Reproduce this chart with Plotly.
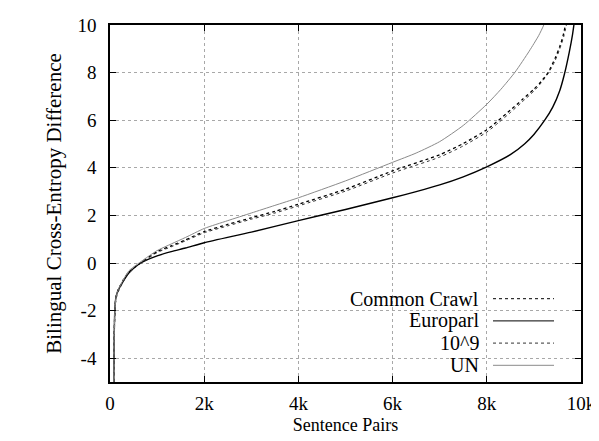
import plotly.graph_objects as go

# Sentence pairs (x) and bilingual cross-entropy difference (y) per corpus
cc_x = [80, 90, 105, 130, 180, 270, 400, 650, 1000, 1300, 1600, 2000, 2500, 3000, 3500, 4000, 5000, 6000, 7000, 7500, 8000, 8250, 8500, 8750, 9000, 9150, 9300, 9450, 9550, 9620, 9680]
cc_y = [-5, -3.0, -1.9, -1.4, -1.1, -0.75, -0.38, 0.0, 0.48, 0.72, 0.97, 1.32, 1.62, 1.9, 2.17, 2.47, 3.1, 3.87, 4.55, 5.02, 5.6, 6.0, 6.42, 6.86, 7.3, 7.62, 8.0, 8.6, 9.1, 9.55, 10.1]

ep_x = [80, 90, 105, 130, 180, 270, 400, 650, 1000, 1300, 1600, 2000, 3000, 4000, 5000, 6000, 6500, 7000, 7500, 8000, 8500, 8800, 9000, 9230, 9400, 9550, 9650, 9750, 9820, 9870]
ep_y = [-5, -3.0, -1.85, -1.4, -1.12, -0.8, -0.42, 0.0, 0.3, 0.48, 0.63, 0.85, 1.3, 1.78, 2.25, 2.74, 3.0, 3.28, 3.62, 4.04, 4.55, 5.0, 5.4, 6.0, 6.55, 7.25, 7.95, 8.85, 9.6, 10.3]

g9_x = [80, 90, 105, 130, 180, 270, 400, 650, 1000, 1300, 1600, 2000, 2500, 3000, 3500, 4000, 5000, 6000, 7000, 7500, 8000, 8250, 8500, 8750, 9000, 9150, 9300, 9450, 9550, 9640, 9700]
g9_y = [-5, -3.2, -2.0, -1.5, -1.2, -0.82, -0.42, -0.02, 0.44, 0.68, 0.93, 1.27, 1.56, 1.84, 2.1, 2.4, 3.02, 3.78, 4.45, 4.92, 5.5, 5.9, 6.32, 6.77, 7.22, 7.56, 7.95, 8.5, 9.0, 9.55, 10.1]

un_x = [80, 90, 105, 130, 180, 270, 400, 650, 1000, 1300, 1600, 2000, 2500, 3000, 3500, 4000, 5000, 6000, 6500, 7000, 7500, 8000, 8300, 8600, 8900, 9100, 9210, 9260]
un_y = [-5, -3.0, -1.9, -1.4, -1.1, -0.75, -0.33, 0.05, 0.52, 0.8, 1.07, 1.45, 1.78, 2.1, 2.42, 2.74, 3.45, 4.23, 4.62, 5.1, 5.78, 6.67, 7.3, 8.02, 8.9, 9.55, 10.0, 10.3]

series_names = ["Common Crawl", "Europarl", "10^9", "UN"]

x_tickvals = [0, 2000, 4000, 6000, 8000, 10000]
x_ticktext = ["0", "2k", "4k", "6k", "8k", "10k"]
y_tickvals = [-4, -2, 0, 2, 4, 6, 8, 10]
y_ticktext = ["-4", "-2", "0", "2", "4", "6", "8", "10"]

styles = [
    dict(color="black", width=1.3, dash="dot"),
    dict(color="black", width=1.4, dash="solid"),
    dict(color="#333333", width=1.0, dash="dot"),
    dict(color="#8a8a8a", width=1.0, dash="solid"),
]

fig = go.Figure()
for name, xs, ys, st in zip(series_names, [cc_x, ep_x, g9_x, un_x], [cc_y, ep_y, g9_y, un_y], styles):
    fig.add_trace(go.Scatter(x=xs, y=ys, mode="lines", name=name,
                             line=dict(color=st["color"], width=st["width"], dash=st["dash"],
                                       shape="spline", smoothing=0.6),
                             showlegend=False))

font_family = "Liberation Serif"
# custom legend: text right-aligned, sample line to the right
plot_h = 357
leg_top = (374 - 290.7) / plot_h
leg_step = 22.2 / plot_h
for i, (name, st) in enumerate(zip(series_names, styles)):
    yy = leg_top - i * leg_step
    fig.add_annotation(xref="paper", yref="paper", x=(473 - 102) / 471, y=yy, text=name,
                       showarrow=False, xanchor="right", yanchor="middle",
                       font=dict(family=font_family, size=20, color="black"))
    fig.add_shape(type="line", xref="paper", yref="paper", x0=(485 - 102) / 471, x1=(546 - 102) / 471,
                  y0=yy, y1=yy,
                  line=dict(color=st["color"], width=1, dash=st["dash"]))

axis_common = dict(showline=True, linecolor="black", linewidth=1.5, mirror="ticks",
                   ticks="inside", ticklen=6, tickcolor="black", tickwidth=1,
                   showgrid=True, gridcolor="#a8a8a8", griddash="dot", gridwidth=1,
                   zeroline=False, tickfont=dict(family=font_family, size=19, color="black"))

fig.update_xaxes(range=[0, 10000], tickvals=x_tickvals, ticktext=x_ticktext, ticklabelstandoff=3,
                 title=dict(text="Sentence Pairs", font=dict(family=font_family, size=18, color="black"), standoff=6),
                 **axis_common)
fig.update_yaxes(range=[-5, 10], tickvals=y_tickvals, ticktext=y_ticktext, ticklabelstandoff=8,
                 title=dict(text="Bilingual Cross-Entropy Difference", font=dict(family=font_family, size=21, color="black"), standoff=10),
                 **axis_common)

fig.update_layout(width=599, height=441, margin=dict(l=102, r=26, t=17, b=67, autoexpand=False),
                  plot_bgcolor="white", paper_bgcolor="white",
                  font=dict(family=font_family, size=19, color="black"),
                  template="none")

fig.write_html("out.html")
